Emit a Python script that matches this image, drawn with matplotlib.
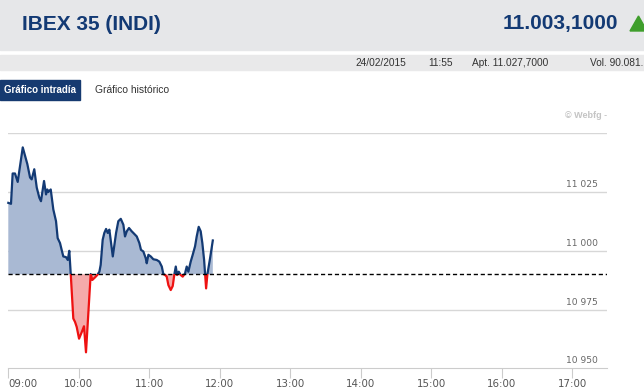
import numpy as np
import matplotlib
matplotlib.use('Agg')
import matplotlib.pyplot as plt
from matplotlib.patches import Rectangle, Polygon

# intraday IBEX 35, minutes after 09:00 and index level
minutes = [0, 2.3, 3.7, 5.7, 8, 12.3, 16.2, 18.5, 19.9, 22.1, 24.2, 26.4, 27.8, 30.4,
           32.1, 33.2, 34, 36.1, 38.3, 40.6, 42, 44, 45.4, 46.8, 49.1, 50.6, 51.9, 53.1,
           55.3, 56.8, 58.2, 60.2, 62.5, 64.4, 66.1, 70.1, 71.5, 73.8, 75.7, 77.5, 78.6,
           80.3, 81.7, 83.2, 84.6, 86, 88.9, 91.7, 93.6, 95.7, 97.9, 99.3, 100.8, 102.7,
           105, 106.4, 109.3, 111.5, 112.9, 114.9, 116.9, 117.8, 119.2, 121.2, 123.4,
           126.3, 128.5, 130.6, 131.9, 133.4, 134.8, 136.2, 138.2, 139.9, 141.3, 142.5,
           143.6, 145, 146.7, 148.4, 150.4, 151.8, 153.2, 155.2, 156.9, 158.9, 160.3,
           162, 163.7, 165.1, 166.6, 168.3, 169.4, 171.7, 174]
values = [11020.4, 11020.0, 11032.9, 11032.9, 11029.3, 11044.0, 11036.9, 11031.2, 11030.4,
          11034.7, 11026.9, 11022.6, 11021.1, 11029.7, 11024.0, 11026.1, 11025.0, 11026.1,
          11017.6, 11012.6, 11005.4, 11003.3, 11000.4, 10997.6, 10997.3, 10996.1, 11000.0,
          10990.4, 10971.2, 10969.7, 10967.6, 10962.6, 10965.4, 10967.9, 10956.8, 10990.1,
          10987.6, 10988.7, 10989.7, 10991.1, 10994.0, 11004.7, 11007.6, 11009.3, 11007.6,
          11009.0, 10997.6, 11007.6, 11012.6, 11013.6, 11011.1, 11006.1, 11008.3, 11009.7,
          11008.3, 11007.6, 11006.1, 11003.3, 11000.4, 10999.7, 10996.9, 10994.7, 10998.3,
          10997.6, 10996.4, 10996.1, 10995.4, 10993.3, 10990.1, 10989.7, 10989.0, 10985.4,
          10983.3, 10985.0, 10990.0, 10993.3, 10989.7, 10991.1, 10989.7, 10989.0, 10990.4,
          10993.3, 10991.1, 10995.4, 10998.3, 11001.9, 11006.1, 11010.2, 11008.3, 11003.3,
          10996.1, 10984.0, 10990.0, 10996.9, 11004.4]
prev_close = 10990
y_ticks = [10950, 10975, 11000, 11025]
y_labels = ['10 950', '10 975', '11 000', '11 025']
x_hours = [9, 10, 11, 12, 13, 14, 15, 16, 17]
x_labels = ['09:00', '10:00', '11:00', '12:00', '13:00', '14:00', '15:00', '16:00', '17:00']

W, H = 644, 392
navy = '#133a74'
fig = plt.figure(figsize=(W / 100, H / 100), dpi=100)

def fx(x):
    return x / W

def fy(y):
    return 1 - y / H

# header bands
fig.patches.append(Rectangle((0, fy(50)), 1, 50 / H, transform=fig.transFigure,
                             color='#e6e7e9', zorder=0))
fig.patches.append(Rectangle((0, fy(70)), 1, 15 / H, transform=fig.transFigure,
                             color='#e9e9ea', zorder=0))
fig.text(fx(22), fy(24), 'IBEX 35 (INDI)', family='Liberation Sans', fontsize=15,
         weight='bold', color=navy, va='center', ha='left')
fig.text(fx(618), fy(24), '11.003,1000', family='Liberation Sans', fontsize=15,
         weight='bold', color=navy, va='center', ha='right')
fig.patches.append(Polygon([(fx(630), fy(31)), (fx(647), fy(31)), (fx(638.5), fy(16))],
                           closed=True, transform=fig.transFigure, color='#3f9e2c'))
for x, s in [(355, '24/02/2015'), (428, '11:55'), (472, 'Apt. 11.027,7000'),
             (590, 'Vol. 90.081.')]:
    fig.text(fx(x), fy(63), s, family='Liberation Sans', fontsize=7.3, color='#333333',
             va='center', ha='left')

# tabs
fig.patches.append(Rectangle((0, fy(100)), fx(80), 20 / H, transform=fig.transFigure,
                             color='#163a70'))
fig.text(fx(40), fy(90), 'Gráfico intradía', family='Liberation Sans', fontsize=7,
         weight='bold', color='white', va='center', ha='center')
fig.text(fx(95), fy(90), 'Gráfico histórico', family='Liberation Sans', fontsize=7.4,
         color='#333333', va='center', ha='left')
fig.text(fx(607), fy(116), '© Webfg -', family='Liberation Sans', fontsize=6.5,
         weight='bold', color='#c4c4c4', va='center', ha='right')

# chart
ax = fig.add_axes([fx(8.3), fy(368.3), fx(607) - fx(8.3), (368.3 - 133.3) / H])
t = 9 + np.array(minutes) / 60
v = np.array(values)

ax.fill_between(t, v, prev_close, where=v >= prev_close, interpolate=True,
                color='#a9b9d3', lw=0, zorder=2)
ax.fill_between(t, v, prev_close, where=v <= prev_close, interpolate=True,
                color='#f5aaaa', lw=0, zorder=2)

up, = ax.plot(t, v, color=navy, lw=1.6, zorder=4, solid_joinstyle='round')
up.set_clip_path(Rectangle((8, prev_close), 10, 200, transform=ax.transData))
dn, = ax.plot(t, v, color='#ee1111', lw=1.6, zorder=4, solid_joinstyle='round')
dn.set_clip_path(Rectangle((8, prev_close - 200), 10, 200, transform=ax.transData))

ax.axhline(prev_close, color='black', lw=1, ls=(0, (3, 2)), zorder=5)
for yv in [10975, 11000, 11025, 11050]:
    ax.axhline(yv, color='#d7d7d7', lw=1, zorder=1)

ax.set_xlim(9, 17.49)
ax.set_ylim(10950, 11050)
for yv, lab in zip(y_ticks, y_labels):
    ax.text(17.36, yv + 1.2, lab, fontsize=6.6, color='#666666', ha='right',
            va='bottom', family='DejaVu Sans')

ax.set_yticks([])
ax.set_xticks(x_hours)
ax.set_xticklabels(x_labels, fontsize=7.4, color='#555555')
ax.get_xticklabels()[0].set_horizontalalignment('left')
ax.tick_params(axis='x', length=7, color='#cccccc', pad=1)
for side in ['left', 'right', 'top']:
    ax.spines[side].set_visible(False)
ax.spines['bottom'].set_color('#cccccc')

fig.savefig('out.png', dpi=100)
